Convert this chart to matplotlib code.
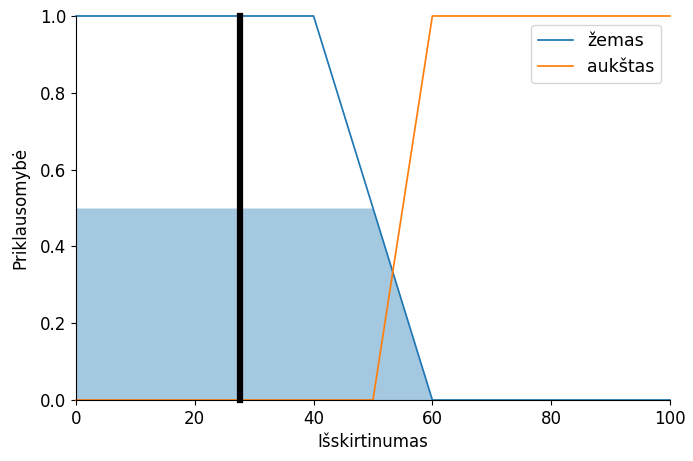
import numpy as np
import matplotlib
matplotlib.use("Agg")
import matplotlib.pyplot as plt

# Universe and membership-function breakpoints
universe = [0, 100]
zemas_x = [0, 0, 40, 60, 100]
zemas_y = [1, 1, 1, 0, 0]
aukstas_x = [0, 50, 60, 100]
aukstas_y = [0, 0, 1, 1]
activation = 0.5
crisp_value = 27.6

labels = ["žemas", "aukštas"]
xlabel = "Išskirtinumas"
ylabel = "Priklausomybė"

plt.rcParams["font.size"] = 12

fig = plt.figure(figsize=(6.93, 4.61), dpi=100)
ax = fig.add_axes([0.1097, 0.1323, 0.857, 0.833])

ax.plot(zemas_x, zemas_y, color="tab:blue", lw=1.25, label=labels[0], clip_on=False)
ax.plot(aukstas_x, aukstas_y, color="tab:orange", lw=1.25, label=labels[1], clip_on=False)

# Clipped activation area of the "žemas" term
xs = np.linspace(universe[0], universe[1], 1001)
mf = np.interp(xs, zemas_x[1:], zemas_y[1:])
ax.fill_between(xs, 0, np.minimum(mf, activation), color="tab:blue", alpha=0.4, lw=0)

# Defuzzified crisp value
ax.plot([crisp_value, crisp_value], [0, 1], color="k", lw=4.5, clip_on=False)

ax.set_xlim(universe)
ax.set_ylim(0, 1.0)
ax.set_xlabel(xlabel, labelpad=4)
ax.set_ylabel(ylabel, labelpad=7.5)
ax.spines["top"].set_visible(False)
ax.spines["right"].set_visible(False)
ax.legend(loc="upper right", fontsize=12.5)

fig.savefig("out.png", dpi=100)
